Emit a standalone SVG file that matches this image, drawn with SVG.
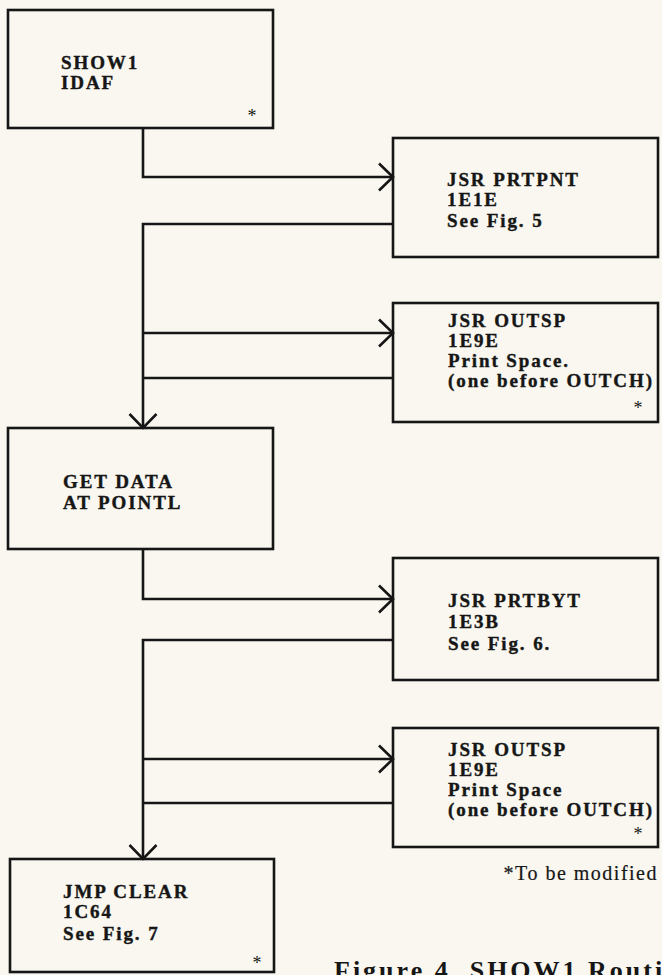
<svg xmlns="http://www.w3.org/2000/svg" width="662" height="975" viewBox="0 0 662 975">
  <style>
    .box { fill: none; stroke: #161616; stroke-width: 2.6; }
    .lbl { font-family: "Liberation Serif", "Times New Roman", serif; font-weight: bold; font-size: 19px; letter-spacing: 1.9px; fill: #161616; stroke: #161616; stroke-width: 0.4; }
    .ast { font-family: "Liberation Serif", "Times New Roman", serif; font-size: 18px; fill: #161616; text-anchor: middle; }
    .note { font-family: "Liberation Serif", "Times New Roman", serif; font-size: 20px; letter-spacing: 1.5px; fill: #161616; stroke: #161616; stroke-width: 0.2; }
    .cap { font-family: "Liberation Serif", "Times New Roman", serif; font-weight: bold; font-size: 26px; letter-spacing: 3px; fill: #161616; }
    .conn path { fill: none; stroke: #161616; stroke-width: 2.6; }
  </style>
  <defs>
    <marker id="arr" markerUnits="userSpaceOnUse" markerWidth="24" markerHeight="34" viewBox="-18 -17 24 34" refX="0" refY="0" orient="auto">
      <path d="M-14,-13.5 L0,0 L-14,13.5" fill="none" stroke="#161616" stroke-width="2.6" stroke-linejoin="miter"/>
    </marker>
  </defs>
  <rect x="0" y="0" width="662" height="975" fill="#f9f7ef"/>

  <g id="connectors" class="conn">
    <path d="M143,128 V177 H393" marker-end="url(#arr)"/>
    <path d="M393,224 H143 V428" marker-end="url(#arr)"/>
    <path d="M143,333 H393" marker-end="url(#arr)"/>
    <path d="M393,378 H143"/>
    <path d="M143,549 V599 H393" marker-end="url(#arr)"/>
    <path d="M393,640 H143 V859" marker-end="url(#arr)"/>
    <path d="M143,759 H393" marker-end="url(#arr)"/>
    <path d="M393,803 H143"/>
  </g>

  <g id="show1">
    <rect class="box" x="8" y="10" width="265" height="118"/>
    <text class="lbl" x="61" y="69">SHOW1</text>
    <text class="lbl" x="61" y="89">IDAF</text>
    <text class="ast" x="252" y="122">*</text>
  </g>

  <g id="prtpnt">
    <rect class="box" x="393" y="138" width="265" height="119"/>
    <text class="lbl" x="447" y="186">JSR PRTPNT</text>
    <text class="lbl" x="447" y="206">1E1E</text>
    <text class="lbl" x="447" y="227">See Fig. 5</text>
  </g>

  <g id="outsp1">
    <rect class="box" x="393" y="303" width="265" height="119"/>
    <text class="lbl" x="448" y="327">JSR OUTSP</text>
    <text class="lbl" x="448" y="347">1E9E</text>
    <text class="lbl" x="448" y="367">Print Space.</text>
    <text class="lbl" x="448" y="387">(one before OUTCH)</text>
    <text class="ast" x="638" y="414">*</text>
  </g>

  <g id="getdata">
    <rect class="box" x="8" y="428" width="265" height="121"/>
    <text class="lbl" x="63" y="488">GET DATA</text>
    <text class="lbl" x="63" y="509">AT POINTL</text>
  </g>

  <g id="prtbyt">
    <rect class="box" x="393" y="558" width="265" height="122"/>
    <text class="lbl" x="448" y="607">JSR PRTBYT</text>
    <text class="lbl" x="448" y="628">1E3B</text>
    <text class="lbl" x="448" y="650">See Fig. 6.</text>
  </g>

  <g id="outsp2">
    <rect class="box" x="393" y="728" width="265" height="119"/>
    <text class="lbl" x="448" y="756">JSR OUTSP</text>
    <text class="lbl" x="448" y="776">1E9E</text>
    <text class="lbl" x="448" y="796">Print Space</text>
    <text class="lbl" x="448" y="816">(one before OUTCH)</text>
    <text class="ast" x="638" y="840">*</text>
  </g>

  <g id="jmpclear">
    <rect class="box" x="10" y="859" width="264" height="113"/>
    <text class="lbl" x="63" y="898">JMP CLEAR</text>
    <text class="lbl" x="63" y="918">1C64</text>
    <text class="lbl" x="63" y="940">See Fig. 7</text>
    <text class="ast" x="257" y="969">*</text>
  </g>

  <g id="footnote">
    <text class="note" x="658" y="880" text-anchor="end">*To be modified</text>
  </g>

  <g id="caption">
    <text class="cap" x="334" y="979">Figure 4. SHOW1 Routine</text>
  </g>
</svg>
